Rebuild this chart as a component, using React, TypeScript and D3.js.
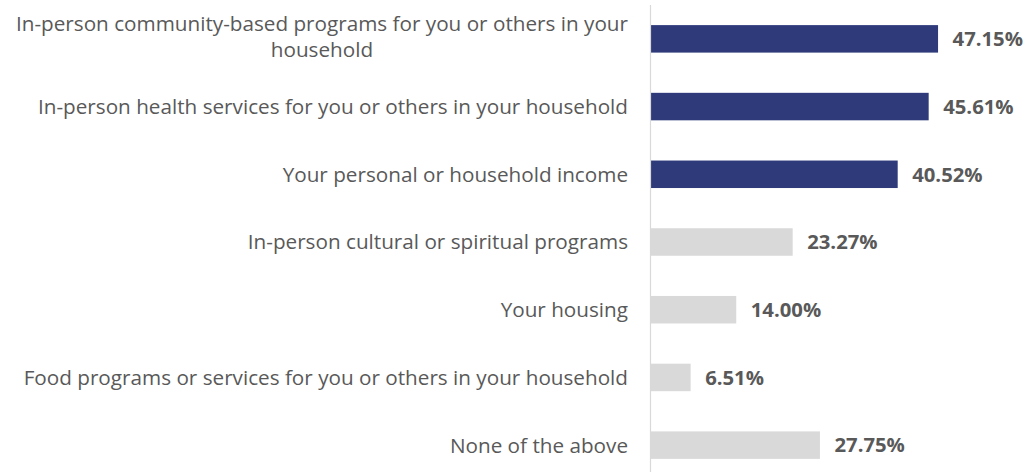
import React, { useEffect, useRef } from "react";
import * as d3 from "d3";

const categories = [
  "In-person community-based programs for you or others in your household",
  "In-person health services for you or others in your household",
  "Your personal or household income",
  "In-person cultural or spiritual programs",
  "Your housing",
  "Food programs or services for you or others in your household",
  "None of the above",
];
const values = [47.15, 45.61, 40.52, 23.27, 14.0, 6.51, 27.75];
const highlighted = [true, true, true, false, false, false, false];
const labelLines = [
  ["In-person community-based programs for you or others in your", "household"],
  ["In-person health services for you or others in your household"],
  ["Your personal or household income"],
  ["In-person cultural or spiritual programs"],
  ["Your housing"],
  ["Food programs or services for you or others in your household"],
  ["None of the above"],
];

const W = 1027;
const H = 472;
const TEXT = "#595959";
const NAVY = "#2E3A7A";
const GRAY = "#D9D9D9";
const FONT = "'Open Sans', sans-serif";

export default function App() {
  const ref = useRef<SVGSVGElement>(null);
  useEffect(() => {
    const svg = d3.select(ref.current!);
    svg.selectAll("*").remove();
    const x = d3.scaleLinear().domain([0, 50]).range([651, 955.4]);
    const y = d3
      .scaleBand<string>()
      .domain(categories)
      .range([5, 479])
      .paddingInner(0.594)
      .paddingOuter(0.297);

    const data = categories.map((c, i) => ({ c, v: values[i], h: highlighted[i], lines: labelLines[i] }));

    svg
      .selectAll("rect.bar")
      .data(data)
      .join("rect")
      .attr("class", "bar")
      .attr("x", x(0))
      .attr("y", (d) => y(d.c)!)
      .attr("width", (d) => x(d.v) - x(0))
      .attr("height", y.bandwidth())
      .attr("fill", (d) => (d.h ? NAVY : GRAY));

    svg
      .append("line")
      .attr("x1", 650.5)
      .attr("x2", 650.5)
      .attr("y1", 5)
      .attr("y2", H)
      .attr("stroke", GRAY)
      .attr("stroke-width", 1.2);

    svg
      .selectAll("text.val")
      .data(data)
      .join("text")
      .attr("class", "val")
      .attr("x", (d) => x(d.v) + 14.5)
      .attr("y", (d) => y(d.c)! + y.bandwidth() / 2)
      .attr("dy", "0.36em")
      .attr("font-family", FONT)
      .attr("font-weight", 700)
      .attr("font-size", 20.3)
      .attr("fill", TEXT)
      .text((d) => d.v.toFixed(2) + "%");

    const rightX = 628;
    const lh = 26;
    data.forEach((d) => {
      const cy = y(d.c)! + y.bandwidth() / 2;
      const n = d.lines.length;
      const shift = n > 1 ? -2.7 : 0;
      const g = svg.append("g");
      const texts = d.lines.map((ln, k) =>
        g
          .append("text")
          .attr("y", cy + shift + (k - (n - 1) / 2) * lh)
          .attr("dy", "0.36em")
          .attr("font-family", FONT)
          .attr("font-size", 20.7)
          .attr("fill", TEXT)
          .text(ln)
      );
      if (n === 1) {
        texts[0].attr("x", rightX).attr("text-anchor", "end");
      } else {
        const widths = texts.map((t) => (t.node() as SVGTextElement).getComputedTextLength());
        const maxW = Math.max(...widths);
        texts.forEach((t) => t.attr("x", rightX - maxW / 2).attr("text-anchor", "middle"));
      }
    });
  }, []);

  return (
    <svg
      ref={ref}
      width={W}
      height={H}
      style={{ position: "absolute", left: 0, top: 0, background: "#fff" }}
    />
  );
}
